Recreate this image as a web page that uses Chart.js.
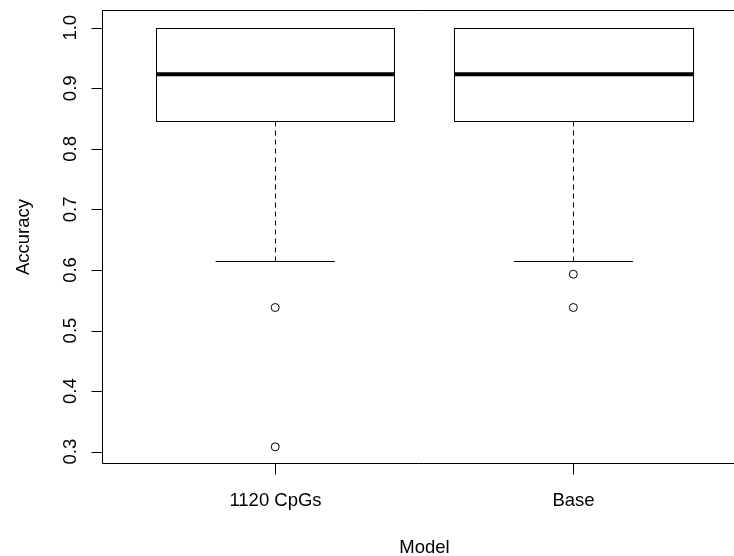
<!DOCTYPE html>
<html>
<head>
<meta charset="utf-8">
<script src="https://cdn.jsdelivr.net/npm/chart.js@4.4.1/dist/chart.umd.min.js"></script>
<style>
  html, body { margin: 0; padding: 0; background: #fff; overflow: hidden; }
  canvas { display: block; }
</style>
</head>
<body>
<canvas id="acc-box" width="734" height="556"></canvas>
<script>
// Box statistics per model
const models = ["1120 CpGs", "Base"];
const q1Values = [0.846, 0.846];
const medianValues = [0.923, 0.923];
const q3Values = [1.0, 1.0];
const whiskerLow = [0.615, 0.615];
const whiskerHigh = [1.0, 1.0];
const outliers1120 = [0.538, 0.308];
const outliersBase = [0.593, 0.538];

const yTickValues = [0.3, 0.4, 0.5, 0.6, 0.7, 0.8, 0.9, 1.0];
const yTickLabels = ["0.3", "0.4", "0.5", "0.6", "0.7", "0.8", "0.9", "1.0"];

const FONT = '18.5px "Liberation Sans", Arial, sans-serif';

// outlier points as scatter data, x = model index (1-based)
const outlierPoints = [];
[outliers1120, outliersBase].forEach((list, i) => {
  list.forEach(v => outlierPoints.push({ x: i + 1, y: v }));
});

// R-style boxes, frame and axes drawn on the library's scales
const rBoxPlot = {
  id: "rBoxPlot",
  beforeDatasetsDraw(chart) {
    const ctx = chart.ctx;
    const xs = chart.scales.x;
    const ys = chart.scales.y;
    ctx.save();
    ctx.strokeStyle = "#000";
    models.forEach((name, i) => {
      const c = i + 1;
      const left = Math.round(xs.getPixelForValue(c - 0.4)) + 0.5;
      const right = Math.round(xs.getPixelForValue(c + 0.4)) + 0.5;
      const mid = Math.round(xs.getPixelForValue(c)) + 0.5;
      const capL = xs.getPixelForValue(c - 0.2);
      const capR = xs.getPixelForValue(c + 0.2);
      const yQ1 = Math.round(ys.getPixelForValue(q1Values[i])) + 0.5;
      const yQ3 = Math.round(ys.getPixelForValue(q3Values[i])) + 0.5;
      const yMed = ys.getPixelForValue(medianValues[i]);
      const yLo = Math.round(ys.getPixelForValue(whiskerLow[i])) + 0.5;
      const yHi = Math.round(ys.getPixelForValue(whiskerHigh[i])) + 0.5;

      // dashed whiskers
      ctx.lineWidth = 1;
      ctx.setLineDash([5, 4]);
      ctx.beginPath();
      ctx.moveTo(mid, yQ1); ctx.lineTo(mid, yLo);
      if (yHi < yQ3) { ctx.moveTo(mid, yQ3); ctx.lineTo(mid, yHi); }
      ctx.stroke();
      ctx.setLineDash([]);

      // whisker caps
      ctx.beginPath();
      ctx.moveTo(capL, yLo); ctx.lineTo(capR, yLo);
      ctx.moveTo(capL, yHi); ctx.lineTo(capR, yHi);
      ctx.stroke();

      // box
      ctx.strokeRect(left, yQ3, right - left, yQ1 - yQ3);

      // median
      ctx.lineWidth = 4;
      ctx.beginPath();
      ctx.moveTo(left, yMed); ctx.lineTo(right, yMed);
      ctx.stroke();
    });
    ctx.restore();
  },
  afterDraw(chart) {
    const ctx = chart.ctx;
    const area = chart.chartArea;
    const xs = chart.scales.x;
    const ys = chart.scales.y;
    ctx.save();
    ctx.strokeStyle = "#000";
    ctx.fillStyle = "#000";
    ctx.lineWidth = 1;

    // frame (right side falls outside the picture)
    const l = area.left + 0.5, t = area.top - 0.5, b = area.bottom + 0.5;
    ctx.beginPath();
    ctx.moveTo(area.right, t); ctx.lineTo(l, t); ctx.lineTo(l, b); ctx.lineTo(area.right, b);
    ctx.stroke();

    ctx.font = FONT;

    // y ticks and rotated labels
    yTickValues.forEach((v, k) => {
      const y = Math.round(ys.getPixelForValue(v)) + 0.5;
      ctx.beginPath();
      ctx.moveTo(l - 11, y); ctx.lineTo(l, y);
      ctx.stroke();
      ctx.save();
      ctx.translate(75.5, ys.getPixelForValue(v));
      ctx.rotate(-Math.PI / 2);
      ctx.textAlign = "center";
      ctx.textBaseline = "alphabetic";
      ctx.fillText(yTickLabels[k], 0, 0);
      ctx.restore();
    });

    // x ticks and labels
    models.forEach((name, i) => {
      const x = Math.round(xs.getPixelForValue(i + 1)) + 0.5;
      ctx.beginPath();
      ctx.moveTo(x, b); ctx.lineTo(x, b + 11);
      ctx.stroke();
      ctx.textAlign = "center";
      ctx.textBaseline = "alphabetic";
      ctx.fillText(name, x, 505.5);
    });

    // axis titles
    ctx.textAlign = "center";
    ctx.fillText("Model", 424.5, 552.5);
    ctx.save();
    ctx.translate(28.5, (area.top + area.bottom) / 2);
    ctx.rotate(-Math.PI / 2);
    ctx.fillText("Accuracy", 0, 0);
    ctx.restore();

    ctx.restore();
  }
};

new Chart(document.getElementById("acc-box"), {
  type: "scatter",
  data: {
    datasets: [{
      label: "Outliers",
      data: outlierPoints,
      pointStyle: "circle",
      pointRadius: 4,
      pointBorderWidth: 1,
      pointBackgroundColor: "rgba(0,0,0,0)",
      pointBorderColor: "#000"
    }]
  },
  options: {
    responsive: false,
    animation: false,
    layout: { autoPadding: false, padding: { left: 102, top: 11, right: 0, bottom: 93 } },
    plugins: { legend: { display: false }, tooltip: { enabled: false } },
    scales: {
      x: { type: "linear", display: false, min: 0.419, max: 2.539 },
      y: { type: "linear", display: false, min: 0.2813, max: 1.0276 }
    }
  },
  plugins: [rBoxPlot]
});
</script>
</body>
</html>
